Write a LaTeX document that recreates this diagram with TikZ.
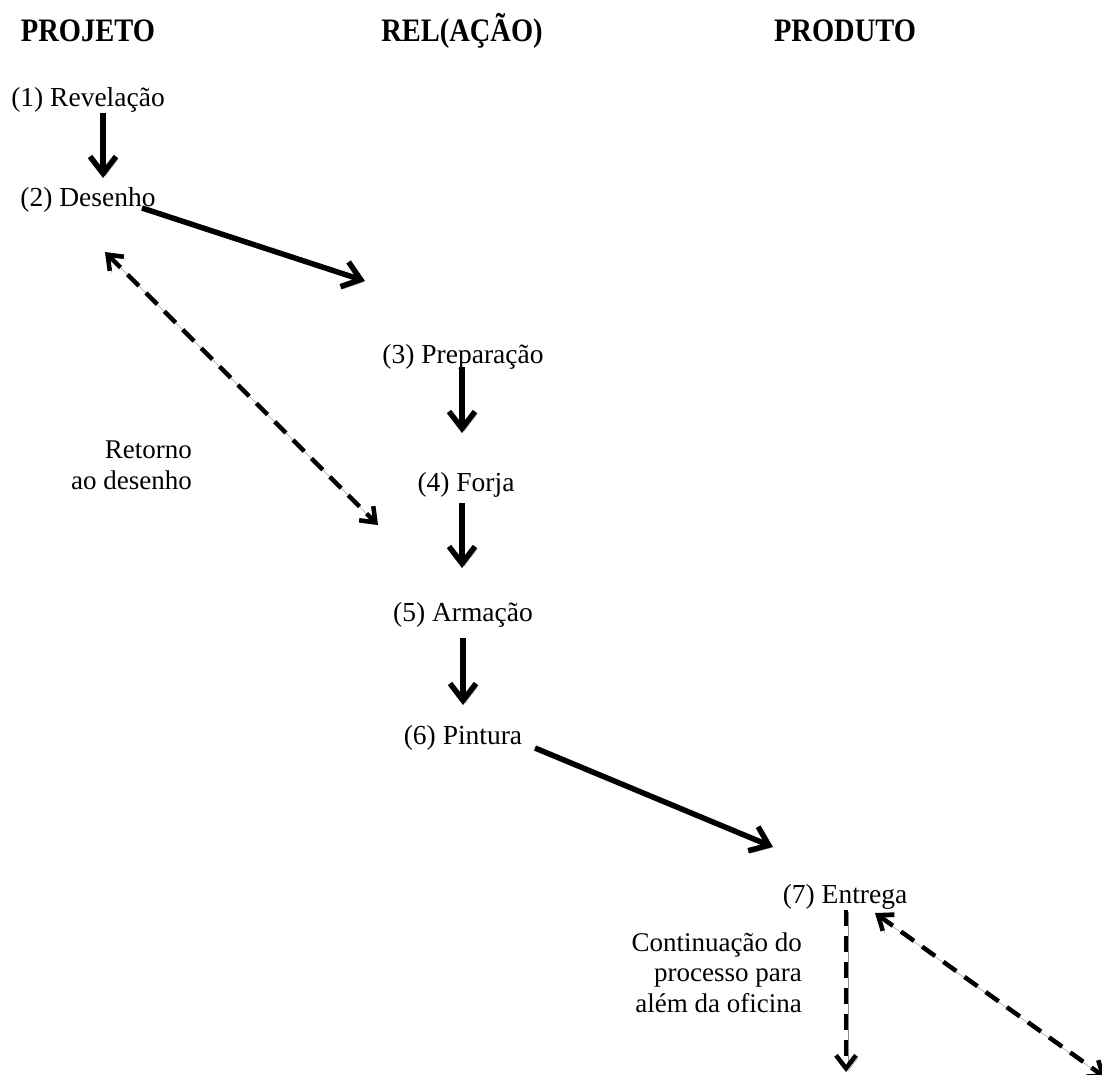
\documentclass[tikz,border=0pt]{standalone}
\usepackage{fontspec}
\setmainfont{Liberation Serif}
\usetikzlibrary{arrows.meta,calc}
\newcommand{\tallhead}[1]{\scalebox{1}[1.15]{#1}}
\tikzset{
  head/.style={font=\fontsize{28.5}{32}\selectfont\bfseries, anchor=base, inner sep=0pt},
  stage/.style={font=\fontsize{27.5}{31}\selectfont, anchor=base, inner sep=0pt},
  note/.style={font=\fontsize{27}{30.5}\selectfont, anchor=base east, align=right, inner sep=0pt},
  shade/.style={preaction={draw=black!45, transform canvas={shift={(2.2pt,-2.4pt)}}}},
  flow/.style={line width=5.5pt, -{Straight Barb[length=17pt,width=26pt]}, shade},
  back/.style={line width=4.5pt, dash pattern=on 16pt off 10pt,
    {Straight Barb[length=13pt,width=20pt]}-{Straight Barb[length=13pt,width=20pt]}, shade},
  onward/.style={line width=4.5pt, dash pattern=on 16pt off 10pt,
    -{Straight Barb[length=13pt,width=20pt]}, shade}
}
\begin{document}
\begin{tikzpicture}[x=1pt,y=-1pt]
\useasboundingbox (0,0) rectangle (1102,1074);
\clip (0,0) rectangle (1102,1074);
\node[head] (hp) at (88,41) {\tallhead{PROJETO}};
\node[head] (hr) at (462,41) {\tallhead{REL(AÇÃO)}};
\node[head] (hpr) at (845,41) {\tallhead{PRODUTO}};
\node[stage] (n1) at (88,106) {(1) Revelação};
\node[stage] (n2) at (88,206) {(2) Desenho};
\node[stage] (n3) at (463,363) {(3) Preparação};
\node[stage] (n4) at (466,491) {(4) Forja};
\node[stage] (n5) at (463,621) {(5) Armação};
\node[stage] (n6) at (463,744) {(6) Pintura};
\node[stage] (n7) at (845,903) {(7) Entrega};
\node[note] (ret) at (192,489) {Retorno\\ao desenho};
\node[note] (cont) at (802,1012) {Continuação do\\processo para\\além da oficina};
\coordinate (e1) at (846,1072);
\coordinate (e2) at (1106,1078);
\draw[flow] ($(n1.base)+(15,7)$) -- ($(n2.base)+(15,-28)$);
\draw[flow] ($(n2.base)+(54,2)$) -- ($(n3.base)+(-98,-82)$);
\draw[flow] ($(n3.base)+(-1,4)$) -- ($(n4.base)+(-4,-58)$);
\draw[flow] ($(n4.base)+(-4,12)$) -- ($(n5.base)+(-1,-53)$);
\draw[flow] ($(n5.base)+(0,17)$) -- ($(n6.base)+(0,-39)$);
\draw[flow] ($(n6.base)+(72,4)$) -- ($(n7.base)+(-72,-56)$);
\draw[back] ($(n2.base)+(17,46)$) -- ($(n4.base)+(-88,34)$);
\draw[onward] ($(n7.base)+(1,7)$) -- (e1);
\draw[back] ($(n7.base)+(30,10)$) -- (e2);
\end{tikzpicture}
\end{document}
